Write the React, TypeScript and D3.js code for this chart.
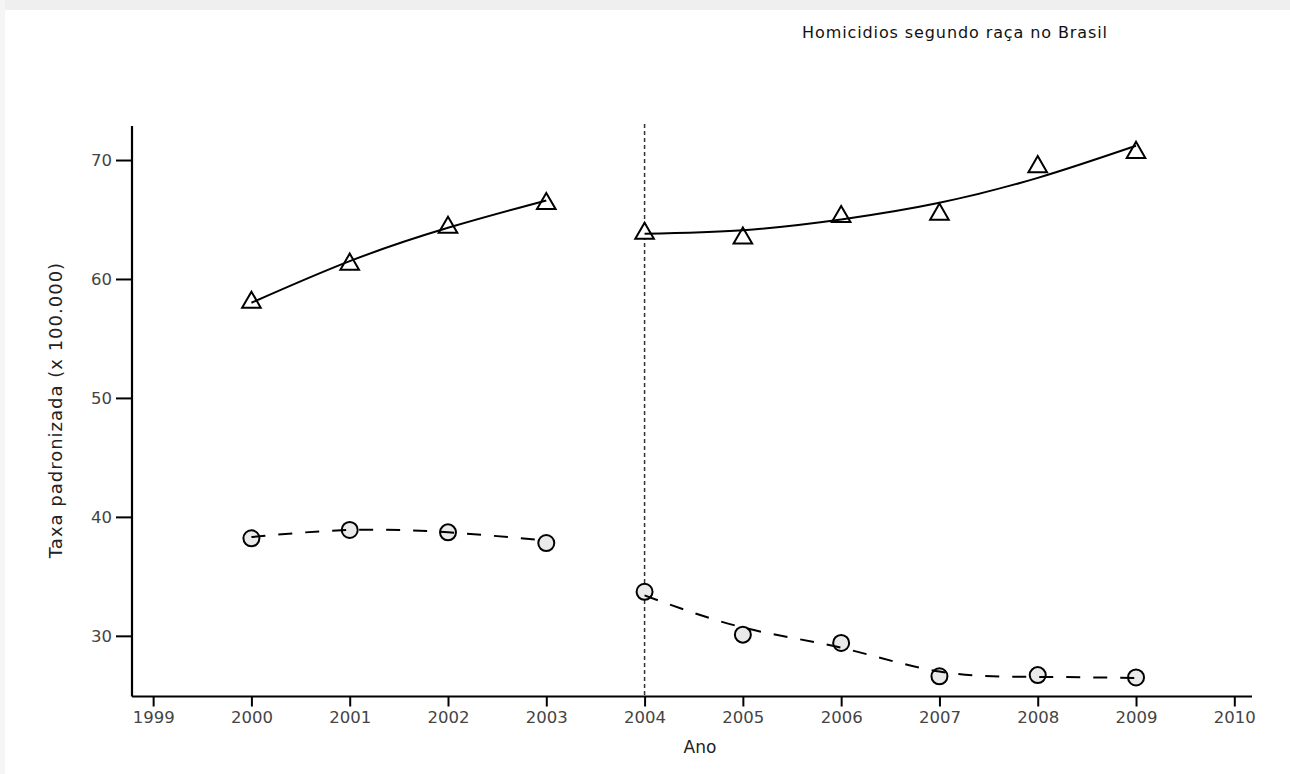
import React, { useEffect, useRef } from 'react';
import * as d3 from 'd3';

// années et valeurs
const years = [2000, 2001, 2002, 2003, 2004, 2005, 2006, 2007, 2008, 2009];
const tickYears = [1999, 2000, 2001, 2002, 2003, 2004, 2005, 2006, 2007, 2008, 2009, 2010];
const yTicks = [30, 40, 50, 60, 70];

// Negros (triângulos)
const negros = [58.2, 61.4, 64.5, 66.5, 64.0, 63.6, 65.4, 65.6, 69.6, 70.8];
const negrosFit1 = [58.0, 61.5, 64.3, 66.6];
const negrosFit2 = [63.8, 64.1, 65.0, 66.4, 68.5, 71.2];

// Brancos (círculos)
const brancos = [38.2, 38.9, 38.7, 37.8, 33.7, 30.1, 29.4, 26.6, 26.7, 26.5];
const brancosFit1 = [38.3, 38.9, 38.7, 38.0];
const brancosFit2 = [33.4, 30.7, 29.0, 27.0, 26.55, 26.45];

const breakYear = 2004;

const App = () => {
  const svgRef = useRef<SVGSVGElement>(null);

  useEffect(() => {
    const svg = d3.select(svgRef.current);
    svg.selectAll('*').remove();

    const font = '"DejaVu Sans", sans-serif';
    const x = d3.scaleLinear().domain([1998.785, 2010.18]).range([132, 1252]);
    const y = d3.scaleLinear().domain([24.9, 72.86]).range([696.5, 126]);

    // fond + ombre en haut
    svg.append('rect').attr('width', 1290).attr('height', 774).attr('fill', '#fff');
    svg.append('rect').attr('x', 0).attr('y', 0).attr('width', 1290).attr('height', 10).attr('fill', '#efefef');
    svg.append('rect').attr('x', 0).attr('y', 0).attr('width', 5).attr('height', 774).attr('fill', '#f5f5f5');

    svg.append('text')
      .attr('x', 955).attr('y', 38)
      .attr('text-anchor', 'middle')
      .style('font-family', font).style('font-size', '16px').style('letter-spacing', '0.9px').attr('fill', '#111')
      .text('Homicidios segundo raça no Brasil');

    // axes
    const xAxis = d3.axisBottom(x).tickValues(tickYears).tickFormat(d3.format('d')).tickSize(10).tickPadding(5).tickSizeOuter(0);
    const gx = svg.append('g').attr('transform', 'translate(0,696.5)').call(xAxis);
    gx.select('.domain').attr('d', 'M132,0H1252').attr('stroke-width', 2.2);
    gx.selectAll('.tick line').attr('stroke-width', 2);
    gx.selectAll('.tick text').style('font-family', font).style('font-size', '16.5px').attr('fill', '#444');

    const yAxis = d3.axisLeft(y).tickValues(yTicks).tickSize(16).tickPadding(4).tickSizeOuter(0);
    const gy = svg.append('g').attr('transform', 'translate(132,0)').call(yAxis);
    gy.select('.domain').attr('d', 'M0,126V696.5').attr('stroke-width', 2.2);
    gy.selectAll('.tick line').attr('stroke-width', 2);
    gy.selectAll('.tick text').style('font-family', font).style('font-size', '16.5px').attr('fill', '#444');

    svg.append('text')
      .attr('transform', 'translate(62,410) rotate(-90)')
      .attr('text-anchor', 'middle')
      .style('font-family', font).style('font-size', '18px').style('letter-spacing', '1px').attr('fill', '#222')
      .text('Taxa padronizada (x 100.000)');

    svg.append('text')
      .attr('x', 700).attr('y', 753)
      .attr('text-anchor', 'middle')
      .style('font-family', font).style('font-size', '17px').attr('fill', '#222')
      .text('Ano');

    // ligne verticale pointillée
    svg.append('line')
      .attr('x1', x(breakYear)).attr('x2', x(breakYear))
      .attr('y1', 124).attr('y2', 696)
      .attr('stroke', '#333').attr('stroke-width', 1.5).attr('stroke-dasharray', '4,3');

    // marqueurs
    const tri = d3.symbol().type(d3.symbolTriangle).size(150);
    svg.selectAll('path.tri')
      .data(years.map((yr, i) => [yr, negros[i]]))
      .enter().append('path')
      .attr('class', 'tri')
      .attr('d', tri)
      .attr('transform', d => `translate(${x(d[0])},${y(d[1]) + 2})`)
      .attr('fill', '#fff').attr('stroke', '#000').attr('stroke-width', 2);

    svg.selectAll('circle.circ')
      .data(years.map((yr, i) => [yr, brancos[i]]))
      .enter().append('circle')
      .attr('class', 'circ')
      .attr('cx', d => x(d[0])).attr('cy', d => y(d[1]))
      .attr('r', 8)
      .attr('fill', '#eaeaea').attr('stroke', '#000').attr('stroke-width', 2);

    // courbes ajustées
    const line = d3.line<[number, number]>().x(d => x(d[0])).y(d => y(d[1])).curve(d3.curveNatural);
    const pre = years.filter(yr => yr < breakYear);
    const post = years.filter(yr => yr >= breakYear);

    const fits: [number[], number[], string][] = [
      [pre, negrosFit1, 'none'],
      [post, negrosFit2, 'none'],
      [pre, brancosFit1, '14,13'],
      [post, brancosFit2, '14,13'],
    ];
    fits.forEach(([xs, vals, dash]) => {
      svg.append('path')
        .datum(xs.map((yr, i) => [yr, vals[i]] as [number, number]))
        .attr('d', line)
        .attr('fill', 'none')
        .attr('stroke', '#000')
        .attr('stroke-width', 2)
        .attr('stroke-dasharray', dash);
    });
  }, []);

  return (
    <svg
      ref={svgRef}
      width={1290}
      height={774}
      style={{ position: 'absolute', left: 0, top: 0, display: 'block' }}
    />
  );
};

export default App;
